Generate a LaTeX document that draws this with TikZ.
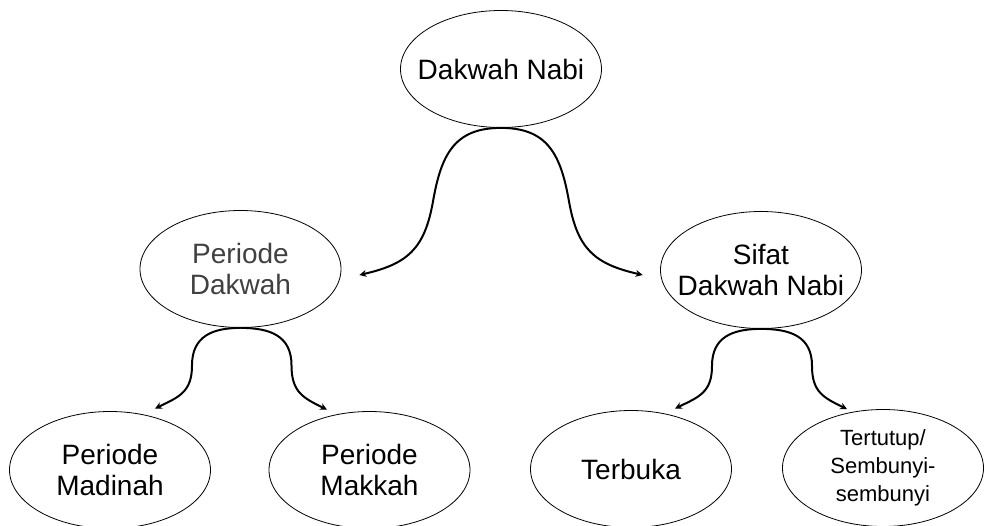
\documentclass[tikz,border=0pt]{standalone}
\usepackage{fontspec}
\setmainfont{Liberation Sans}
\usetikzlibrary{shapes.geometric,arrows.meta}
\begin{document}
\begin{tikzpicture}[x=1pt, y=1pt,
    bubble/.style={draw, ellipse, line width=0.8pt, minimum width=201pt, minimum height=117pt, inner sep=0pt},
    txt/.style={align=center, font=\fontsize{28}{31}\selectfont},
    smalltxt/.style={align=center, font=\fontsize{22}{28}\selectfont},
    brace/.style={line width=2pt, looseness=1.2, -{Stealth[length=7pt, width=7pt]}}]
    \useasboundingbox (0, 0) rectangle (986, -526);
    % ellipses
    \node[bubble] (dn) at (501, -69) {};
    \node[bubble] (pd) at (240.5, -269) {};
    \node[bubble] (sd) at (761, -270) {};
    \node[bubble] (pm) at (110, -470) {};
    \node[bubble] (pk) at (369.5, -470) {};
    \node[bubble] (tb) at (631, -469) {};
    \node[bubble] (tt) at (883, -468) {};
    % texts
    \node[txt] (dnt) at (dn) {Dakwah Nabi};
    \node[txt, text=black!75] (pdt) at (pd) {Periode\\Dakwah};
    \node[txt] (sdt) at (sd) {Sifat\\Dakwah Nabi};
    \node[txt] (pmt) at (pm) {Periode\\Madinah};
    \node[txt] (pkt) at (pk) {Periode\\Makkah};
    \node[txt] (tbt) at (tb) {Terbuka};
    \node[smalltxt] (ttt) at (tt) {Tertutup/\\Sembunyi-\\sembunyi};
    % braces
    \draw[brace] (dn.south) to[out=180, in=80] ++(-68, -73.5) to[out=-100, in=13] ([xshift=18pt, yshift=-6pt]pd.east);
    \draw[brace] (dn.south) to[out=0, in=100] ++(68, -73.5) to[out=-80, in=167] ([xshift=-17.5pt, yshift=-5pt]sd.west);
    \draw[brace] (pd.south) to[out=180, in=90] ++(-48.5, -37.5) to[out=-90, in=26] ([xshift=45pt, yshift=2.5pt]pm.north);
    \draw[brace] (pd.south) to[out=0, in=90] ++(51, -37.5) to[out=-90, in=154] ([xshift=-42.5pt, yshift=1.5pt]pk.north);
    \draw[brace] (sd.south) to[out=180, in=90] ++(-49, -37) to[out=-90, in=26] ([xshift=44pt, yshift=1.5pt]tb.north);
    \draw[brace] (sd.south) to[out=0, in=90] ++(51, -37) to[out=-90, in=154] ([xshift=-36pt, yshift=0pt]tt.north);
  \end{tikzpicture}
\end{document}
